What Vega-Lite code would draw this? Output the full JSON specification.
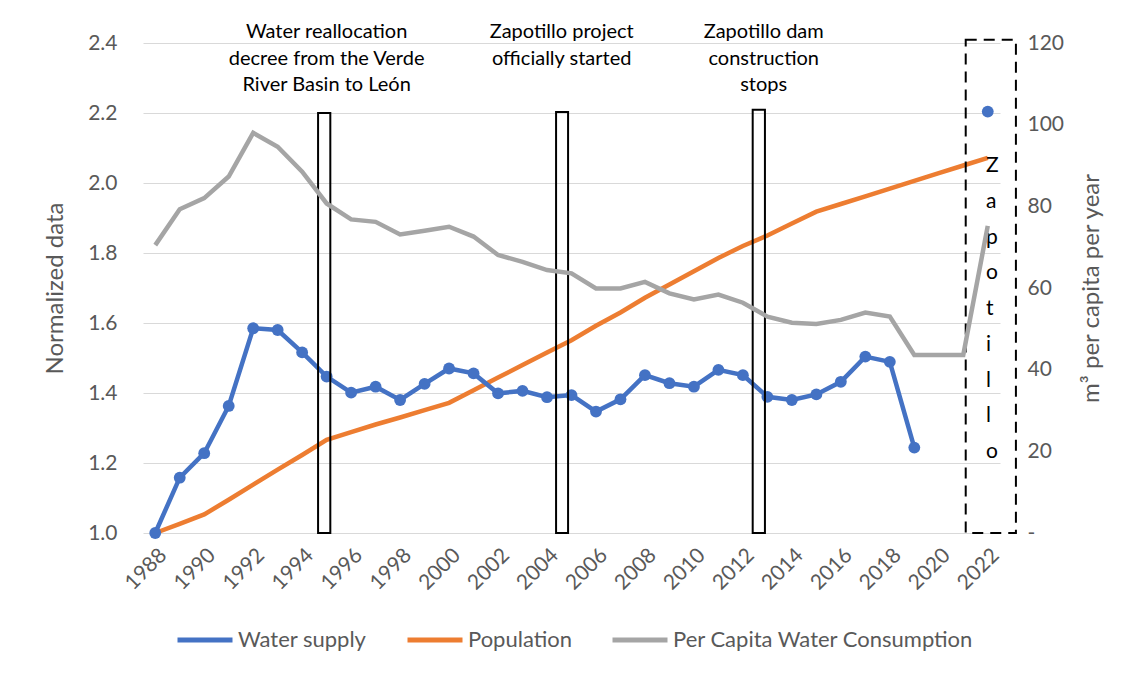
{
  "$schema": "https://vega.github.io/schema/vega-lite/v6.json",
  "width": 857,
  "height": 490,
  "autosize": {"type": "none"},
  "padding": {"left": 143, "top": 43, "right": 129, "bottom": 145},
  "background": "white",
  "config": {
    "font": "Lato",
    "view": {"stroke": null},
    "axis": {
      "labelFont": "Lato",
      "titleFont": "Lato",
      "labelColor": "#595959",
      "titleColor": "#595959",
      "titleFontWeight": "normal",
      "labelFontSize": 21,
      "titleFontSize": 24,
      "domain": false,
      "ticks": false,
      "tickSize": 0,
      "gridColor": "#D9D9D9",
      "gridWidth": 1
    }
  },
  "datasets": {
    "main": [
      {"year": 1988, "ws": 1.000, "pop": 1.000, "pc": 70.5},
      {"year": 1989, "ws": 1.158, "pop": 1.026, "pc": 79.3},
      {"year": 1990, "ws": 1.228, "pop": 1.053, "pc": 82.0},
      {"year": 1991, "ws": 1.363, "pop": 1.095, "pc": 87.3},
      {"year": 1992, "ws": 1.585, "pop": 1.138, "pc": 98.0},
      {"year": 1993, "ws": 1.580, "pop": 1.181, "pc": 94.6},
      {"year": 1994, "ws": 1.516, "pop": 1.223, "pc": 88.5},
      {"year": 1995, "ws": 1.447, "pop": 1.266, "pc": 80.7},
      {"year": 1996, "ws": 1.401, "pop": 1.288, "pc": 76.8},
      {"year": 1997, "ws": 1.418, "pop": 1.310, "pc": 76.2},
      {"year": 1998, "ws": 1.380, "pop": 1.330, "pc": 73.1},
      {"year": 1999, "ws": 1.426, "pop": 1.351, "pc": 74.0},
      {"year": 2000, "ws": 1.470, "pop": 1.372, "pc": 75.0},
      {"year": 2001, "ws": 1.456, "pop": 1.408, "pc": 72.6},
      {"year": 2002, "ws": 1.399, "pop": 1.444, "pc": 68.1},
      {"year": 2003, "ws": 1.406, "pop": 1.480, "pc": 66.4},
      {"year": 2004, "ws": 1.388, "pop": 1.516, "pc": 64.4},
      {"year": 2005, "ws": 1.394, "pop": 1.551, "pc": 63.6},
      {"year": 2006, "ws": 1.347, "pop": 1.592, "pc": 59.9},
      {"year": 2007, "ws": 1.382, "pop": 1.630, "pc": 59.9},
      {"year": 2008, "ws": 1.451, "pop": 1.672, "pc": 61.5},
      {"year": 2009, "ws": 1.428, "pop": 1.710, "pc": 58.7},
      {"year": 2010, "ws": 1.418, "pop": 1.748, "pc": 57.2},
      {"year": 2011, "ws": 1.466, "pop": 1.786, "pc": 58.4},
      {"year": 2012, "ws": 1.451, "pop": 1.820, "pc": 56.4},
      {"year": 2013, "ws": 1.389, "pop": 1.850, "pc": 53.0},
      {"year": 2014, "ws": 1.380, "pop": 1.884, "pc": 51.5},
      {"year": 2015, "ws": 1.396, "pop": 1.918, "pc": 51.2},
      {"year": 2016, "ws": 1.432, "pop": 1.940, "pc": 52.2},
      {"year": 2017, "ws": 1.504, "pop": 1.962, "pc": 54.0},
      {"year": 2018, "ws": 1.489, "pop": 1.984, "pc": 53.0},
      {"year": 2019, "ws": 1.244, "pop": 2.006, "pc": 43.6},
      {"year": 2020, "ws": null, "pop": 2.028, "pc": 43.6},
      {"year": 2021, "ws": null, "pop": 2.050, "pc": 43.6},
      {"year": 2022, "ws": 2.204, "pop": 2.072, "pc": 75.2}
    ],
    "boxes": [
      {"start": 1994.65, "end": 1995.15, "bottom": 1.0, "top": 2.2},
      {"start": 2004.37, "end": 2004.86, "bottom": 1.0, "top": 2.203},
      {"start": 2012.4, "end": 2012.9, "bottom": 1.0, "top": 2.209}
    ],
    "dashbox": [
      {"start": 2021.1, "end": 2023.15, "bottom": 1.0, "top": 2.409}
    ],
    "notes": [
      {"x": 1995, "y": 2.414, "label": "Water reallocation\ndecree from the Verde\nRiver Basin to León"},
      {"x": 2004.6, "y": 2.414, "label": "Zapotillo project\nofficially started"},
      {"x": 2012.85, "y": 2.414, "label": "Zapotillo dam\nconstruction\nstops"}
    ],
    "vert": [
      {"x": 2021.93, "y": 2.031, "label": "Z\na\np\no\nt\ni\nl\nl\no"}
    ]
  },
  "layer": [
    {
      "layer": [
        {
          "data": {"name": "main"},
          "mark": {"type": "line", "strokeWidth": 4.5},
          "encoding": {
            "x": {"field": "year", "type": "quantitative", "title": null,
                  "scale": {"domain": [1987.5, 2022.5], "nice": false, "zero": false},
                  "axis": {"values": [1988,1990,1992,1994,1996,1998,2000,2002,2004,2006,2008,2010,2012,2014,2016,2018,2020,2022],
                           "format": "d", "labelAngle": -45, "grid": false, "labelFontSize": 21, "labelPadding": 11,
                           "labelOverlap": false, "labelBound": false, "labelFlush": false}},
            "y": {"field": "pop", "type": "quantitative", "title": "Normalized data",
                  "scale": {"domain": [1, 2.4], "nice": false, "zero": false},
                  "axis": {"values": [1.0,1.2,1.4,1.6,1.8,2.0,2.2,2.4], "format": ".1f", "labelPadding": 26, "titlePadding": 20}},
            "color": {"datum": "Population", "type": "nominal",
                      "scale": {"domain": ["Water supply", "Population", "Per Capita Water Consumption"],
                                "range": ["#4472C4", "#ED7D31", "#A5A5A5"]},
                      "legend": {"orient": "none", "direction": "horizontal", "legendX": 32, "legendY": 567,
                                 "title": null, "symbolType": "stroke", "symbolSize": 3025, "symbolStrokeWidth": 5,
                                 "labelFontSize": 22, "labelColor": "#595959", "labelFont": "Lato", "labelLimit": 500,
                                 "labelOffset": 3, "columnPadding": 30}}
          }
        },
        {
          "data": {"name": "main"},
          "mark": {"type": "line", "strokeWidth": 4.5},
          "encoding": {
            "x": {"field": "year", "type": "quantitative", "title": null},
            "y": {"field": "ws", "type": "quantitative", "title": "Normalized data"},
            "color": {"datum": "Water supply", "type": "nominal"}
          }
        },
        {
          "data": {"name": "main"},
          "mark": {"type": "point", "shape": "circle", "filled": true, "size": 140, "opacity": 1, "color": "#4472C4"},
          "encoding": {
            "x": {"field": "year", "type": "quantitative", "title": null},
            "y": {"field": "ws", "type": "quantitative", "title": "Normalized data"}
          }
        },
        {
          "data": {"name": "boxes"},
          "mark": {"type": "rect", "fill": null, "stroke": "black", "strokeWidth": 2, "clip": false},
          "encoding": {
            "x": {"field": "start", "type": "quantitative", "title": null},
            "x2": {"field": "end"},
            "y": {"field": "bottom", "type": "quantitative", "title": "Normalized data"},
            "y2": {"field": "top"}
          }
        },
        {
          "data": {"name": "dashbox"},
          "mark": {"type": "rect", "fill": null, "stroke": "black", "strokeWidth": 2, "strokeDash": [11, 7], "clip": false},
          "encoding": {
            "x": {"field": "start", "type": "quantitative", "title": null},
            "x2": {"field": "end"},
            "y": {"field": "bottom", "type": "quantitative", "title": "Normalized data"},
            "y2": {"field": "top"}
          }
        },
        {
          "data": {"name": "notes"},
          "mark": {"type": "text", "align": "center", "baseline": "alphabetic", "lineBreak": "\n", "lineHeight": 26.5,
                   "fontSize": 20, "font": "Lato", "color": "#000000", "clip": false},
          "encoding": {
            "x": {"field": "x", "type": "quantitative", "title": null},
            "y": {"field": "y", "type": "quantitative", "title": "Normalized data"},
            "text": {"field": "label", "type": "nominal"}
          }
        },
        {
          "data": {"name": "vert"},
          "mark": {"type": "text", "align": "left", "baseline": "alphabetic", "lineBreak": "\n", "lineHeight": 35.75,
                   "fontSize": 21, "font": "Lato", "color": "#000000", "clip": false},
          "encoding": {
            "x": {"field": "x", "type": "quantitative", "title": null},
            "y": {"field": "y", "type": "quantitative", "title": "Normalized data"},
            "text": {"field": "label", "type": "nominal"}
          }
        }
      ]
    },
    {
      "data": {"name": "main"},
      "mark": {"type": "line", "strokeWidth": 4.5},
      "encoding": {
        "x": {"field": "year", "type": "quantitative", "title": null},
        "y": {"field": "pc", "type": "quantitative", "title": "m³ per capita per year",
              "scale": {"domain": [0, 120], "nice": false, "zero": false},
              "axis": {"orient": "right", "values": [0,20,40,60,80,100,120], "grid": false,
                       "labelExpr": "datum.value == 0 ? '-' : datum.label",
                       "labelPadding": 27, "titlePadding": 40, "titleAngle": 270}},
        "color": {"datum": "Per Capita Water Consumption", "type": "nominal"}
      }
    }
  ],
  "resolve": {"scale": {"y": "independent"}}
}
